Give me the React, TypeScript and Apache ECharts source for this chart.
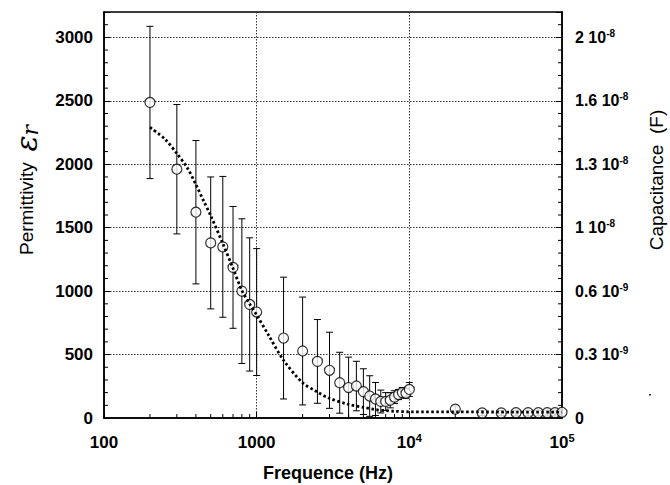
import React, { useEffect, useRef } from 'react';
import * as echarts from 'echarts';

// Measured frequencies (Hz)
const freqs = [200, 300, 400, 500, 600, 700, 800, 900, 1000, 1500, 2000, 2500, 3000, 3500, 4000, 4500, 5000, 5500, 6000, 6500, 7000, 7500, 8000, 8500, 9000, 9500, 10000, 20000, 30000, 40000, 50000, 60000, 70000, 80000, 90000, 100000];
// Measured permittivity
const permittivity = [2487, 1961, 1622, 1380, 1349, 1187, 1000, 895, 835, 630, 528, 446, 376, 278, 240, 252, 208, 173, 150, 130, 130, 140, 165, 185, 200, 195, 225, 70, 40, 40, 42, 42, 42, 42, 42, 45];
// Error bar half-heights
const errors = [600, 510, 565, 520, 555, 480, 570, 525, 500, 480, 425, 330, 300, 240, 240, 195, 180, 160, 130, 90, 70, 60, 50, 40, 40, 40, 55, 25, 20, 20, 20, 20, 20, 20, 20, 20];

// Fit curve (dotted)
const fitFreqs = [200, 250, 300, 350, 400, 450, 500, 600, 700, 800, 900, 1000, 1200, 1500, 2000, 2500, 3000, 4000, 5000, 6000, 7000, 8000, 10000, 20000, 50000, 100000];
const fitValues = [2290, 2200, 2085, 1975, 1840, 1710, 1595, 1375, 1180, 1005, 898, 812, 650, 455, 278, 205, 155, 107, 84, 66, 58, 53, 49, 48, 47, 47];

// Axis ticks
const leftTicks = [0, 500, 1000, 1500, 2000, 2500, 3000];
const rightTickLabels = ['0', '0.3 10{sup|-9}', '0.6 10{sup|-9}', '1 10{sup|-8}', '1.3 10{sup|-8}', '1.6 10{sup|-8}', '2 10{sup|-8}'];
const xMinorTicks = [200, 300, 400, 500, 600, 700, 800, 900, 2000, 3000, 4000, 5000, 6000, 7000, 8000, 9000, 20000, 30000, 40000, 50000, 60000, 70000, 80000, 90000];
const yMinorTicks = [100, 200, 300, 400, 600, 700, 800, 900, 1100, 1200, 1300, 1400, 1600, 1700, 1800, 1900, 2100, 2200, 2300, 2400, 2600, 2700, 2800, 2900, 3100];

const FONT = '"Liberation Sans", Arial, Helvetica, sans-serif';

export default function App() {
  const ref = useRef<HTMLDivElement>(null);
  useEffect(() => {
    document.body.style.margin = '0';
    const chart = echarts.init(ref.current as HTMLDivElement, null, { renderer: 'svg' });

    const supStyle = { fontSize: 10, fontWeight: 'bold', fontFamily: FONT, color: '#000', verticalAlign: 'top', lineHeight: 10 } as any;

    const minorData: number[][] = [];
    xMinorTicks.forEach((f) => minorData.push([f, 0, 0]));
    yMinorTicks.forEach((v) => minorData.push([100, v, 1]));

    const option: any = {
      animation: false,
      backgroundColor: '#fff',
      grid: { left: 104, right: 108, top: 12, bottom: 67, show: true, borderColor: '#000', borderWidth: 1.5, backgroundColor: 'transparent' },
      xAxis: {
        type: 'log',
        logBase: 10,
        min: 100,
        max: 100000,
        axisLine: { show: true, onZero: false, lineStyle: { color: '#000', width: 1.5 } },
        axisTick: { show: true, inside: true, length: 6, lineStyle: { color: '#000', width: 1 } },
        axisLabel: {
          margin: 14,
          color: '#000',
          fontSize: 17,
          fontWeight: 'bold',
          fontFamily: FONT,
          lineHeight: 20,
          formatter: (v: number) => {
            const e = Math.round(Math.log10(v));
            if (e <= 3) return String(Math.round(Math.pow(10, e)));
            return '10{sup|' + e + '}';
          },
          rich: { sup: { ...supStyle, fontSize: 11, lineHeight: 11 } },
        },
        splitLine: { show: true, lineStyle: { color: '#333', width: 1, type: [1.5, 1.5] } },
      },
      yAxis: [
        {
          type: 'value',
          min: 0,
          max: 3200,
          interval: 500,
          axisLine: { show: true, lineStyle: { color: '#000', width: 1.5 } },
          axisTick: { show: true, inside: true, length: 6, lineStyle: { color: '#000', width: 1 } },
          axisLabel: {
            margin: 11,
            color: '#000',
            fontSize: 17,
            fontWeight: 'bold',
            fontFamily: FONT,
            formatter: (v: number) => (leftTicks.indexOf(v) >= 0 ? String(v) : ''),
          },
          splitLine: { show: true, lineStyle: { color: '#333', width: 1, type: [1.5, 1.5] } },
        },
        {
          type: 'value',
          position: 'right',
          min: 0,
          max: 3200,
          interval: 500,
          axisLine: { show: true, lineStyle: { color: '#000', width: 1.5 } },
          axisTick: { show: true, inside: true, length: 6, lineStyle: { color: '#000', width: 1 } },
          axisLabel: {
            margin: 13,
            color: '#000',
            fontSize: 16,
            fontWeight: 'bold',
            fontFamily: FONT,
            lineHeight: 18,
            formatter: (v: number) => {
              const i = leftTicks.indexOf(v);
              return i >= 0 ? rightTickLabels[i] : '';
            },
            rich: { sup: supStyle },
          },
          splitLine: { show: false },
        },
      ],
      series: [
        {
          type: 'custom',
          name: 'minorTicks',
          silent: true,
          xAxisIndex: 0,
          yAxisIndex: 0,
          data: minorData,
          z: 1,
          renderItem: (params: any, api: any) => {
            const cs = params.coordSys;
            const kind = api.value(2);
            const p = api.coord([api.value(0), api.value(1)]);
            const st = { stroke: '#000', lineWidth: 1 };
            if (kind === 0) {
              return { type: 'line', shape: { x1: p[0], y1: cs.y + cs.height, x2: p[0], y2: cs.y + cs.height - 4 }, style: st };
            }
            return {
              type: 'group',
              children: [
                { type: 'line', shape: { x1: cs.x, y1: p[1], x2: cs.x + 4, y2: p[1] }, style: st },
                { type: 'line', shape: { x1: cs.x + cs.width, y1: p[1], x2: cs.x + cs.width - 4, y2: p[1] }, style: st },
              ],
            };
          },
        },
        {
          type: 'custom',
          name: 'errors',
          silent: true,
          xAxisIndex: 0,
          yAxisIndex: 0,
          clip: true,
          z: 2,
          data: freqs.map((f, i) => [f, permittivity[i], errors[i]]),
          renderItem: (params: any, api: any) => {
            const f = api.value(0);
            const v = api.value(1);
            const e = api.value(2);
            const top = api.coord([f, v + e]);
            const bot = api.coord([f, v - e]);
            const st = { stroke: '#000', lineWidth: 1 };
            const hw = 3.5;
            return {
              type: 'group',
              children: [
                { type: 'line', shape: { x1: top[0], y1: top[1], x2: bot[0], y2: bot[1] }, style: st },
                { type: 'line', shape: { x1: top[0] - hw, y1: top[1], x2: top[0] + hw, y2: top[1] }, style: st },
                { type: 'line', shape: { x1: bot[0] - hw, y1: bot[1], x2: bot[0] + hw, y2: bot[1] }, style: st },
              ],
            };
          },
        },
        {
          type: 'scatter',
          name: 'data',
          symbol: 'circle',
          symbolSize: 10,
          z: 3,
          itemStyle: { color: '#fff', borderColor: '#000', borderWidth: 1.2 },
          data: freqs.map((f, i) => [f, permittivity[i]]),
        },
        {
          type: 'line',
          name: 'fit',
          smooth: 0.3,
          showSymbol: false,
          z: 4,
          lineStyle: { color: '#000', width: 2.8, type: [2.5, 2.5] },
          data: fitFreqs.map((f, i) => [f, fitValues[i]]),
        },
      ],
      graphic: [
        {
          type: 'text',
          x: 328,
          y: 473,
          style: { text: 'Frequence (Hz)', fontSize: 18, fontWeight: 'bold', fontFamily: FONT, fill: '#000', align: 'center', verticalAlign: 'middle' },
        },
        {
          type: 'text',
          x: 26,
          y: 190,
          rotation: Math.PI / 2,
          style: {
            text: 'Permittivity  {e|ε}{r|r}',
            fontSize: 19,
            fontFamily: FONT,
            fill: '#000',
            align: 'center',
            verticalAlign: 'middle',
            rich: {
              e: { fontSize: 30, fontStyle: 'italic', fontFamily: '"DejaVu Serif", serif', fill: '#000' },
              r: { fontSize: 22, fontStyle: 'italic', fontFamily: '"DejaVu Serif", serif', fill: '#000', verticalAlign: 'bottom' },
            },
          },
        },
        {
          type: 'text',
          x: 656,
          y: 180,
          rotation: Math.PI / 2,
          style: { text: 'Capacitance  (F)', fontSize: 19, fontFamily: FONT, fill: '#000', align: 'center', verticalAlign: 'middle' },
        },
        {
          type: 'rect',
          shape: { x: 649, y: 394, width: 2, height: 1.5 },
          style: { fill: '#333' },
        },
      ],
    };
    chart.setOption(option);
    return () => chart.dispose();
  }, []);
  return <div ref={ref} style={{ position: 'absolute', left: 0, top: 0, width: 670, height: 485 }} />;
}
